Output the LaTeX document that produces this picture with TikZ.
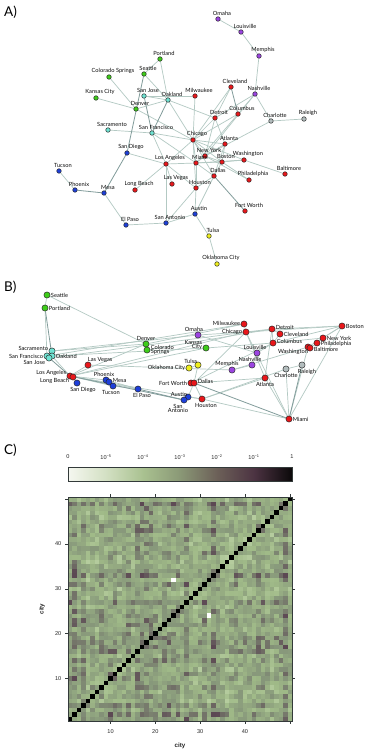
\documentclass[tikz,border=0pt]{standalone}
\usepackage{fontspec}
\setmainfont{Liberation Sans}
\newfontfamily\cityfont{Lato}
\usetikzlibrary{backgrounds}
\definecolor{cG}{HTML}{3ECC1A}
\definecolor{cC}{HTML}{6FE3D2}
\definecolor{cB}{HTML}{1E3FD8}
\definecolor{cR}{HTML}{E8171B}
\definecolor{cP}{HTML}{9B45E0}
\definecolor{cY}{HTML}{EEEE1E}
\definecolor{cK}{HTML}{B3BDBE}
\definecolor{edgec}{HTML}{B3C9C3}
\definecolor{edged}{HTML}{829C9B}
\definecolor{mL}{HTML}{C4D9AE}
\definecolor{mM}{HTML}{A0BA88}
\definecolor{mO}{HTML}{86967A}
\definecolor{mD}{HTML}{5C4853}
\definecolor{g0}{HTML}{F5F7F0}
\definecolor{g1}{HTML}{D3E0C3}
\definecolor{g2}{HTML}{A9C190}
\definecolor{g3}{HTML}{8A9876}
\definecolor{g4}{HTML}{6C6058}
\definecolor{g5}{HTML}{4C3342}
\definecolor{g6}{HTML}{0B090A}
\definecolor{frm}{HTML}{333A3A}
\begin{document}
\begin{tikzpicture}[x=1pt,y=-1pt,
  ndA/.style={circle,draw=black!85,line width=0.45pt,inner sep=0pt,minimum size=4.6pt},
  ndB/.style={circle,draw=black!85,line width=0.45pt,inner sep=0pt,minimum size=6.2pt},
  labA/.style={font=\cityfont\fontsize{5.7}{6}\selectfont,inner sep=0.3pt,xshift=4pt,text=black!95},
  labB/.style={font=\cityfont\fontsize{5.7}{5.7}\selectfont,inner sep=0.4pt,text=black!95},
  ed/.style={draw=edgec,line width=0.7pt},
  edk/.style={draw=edged,line width=0.8pt},
  panel/.style={font=\cityfont\fontsize{13.5}{14}\selectfont,inner sep=0pt},
  tick/.style={draw=frm,line width=0.45pt},
  tlab/.style={font=\fontsize{5.6}{6}\selectfont,inner sep=0.5pt,text=black!85},
  axlab/.style={font=\bfseries\fontsize{6.2}{7}\selectfont,inner sep=0.5pt,text=black!85}]
\useasboundingbox (0,0) rectangle (374,752);
\begin{pgfonlayer}{background}
\fill[white] (0,0) rectangle (374,752);
\end{pgfonlayer}

% ---------------- Panel A ----------------
\node[panel,anchor=west] (pa) at (4,12) {A)};
\foreach \n/\x/\y/\c/\t in {
omaha/218/19/cP/Omaha, louisville/241/32/cP/Louisville, memphis/259/56/cP/Memphis,
nashville/255/94/cP/Nashville, cleveland/231/87/cR/Cleveland, milwaukee/195/96/cR/Milwaukee,
detroit/215/118/cR/Detroit, columbus/238/114/cR/Columbus, charlotte/271/121/cK/Charlotte,
raleigh/304/119/cK/Raleigh, chicago/193/140/cR/Chicago, atlanta/225/144/cR/Atlanta,
newyork/205/156/cR/New York, miami/196/163/cR/Miami, boston/222/162/cR/Boston,
washington/244/160/cR/Washington, baltimore/285/174/cR/Baltimore, philadelphia/249/180/cR/Philadelphia,
dallas/214/176/cR/Dallas, houston/196/188/cR/Houston, fortworth/245/211/cR/Fort Worth,
austin/195/214/cB/Austin, tulsa/209/236/cY/Tulsa, okc/217/264/cY/Oklahoma City,
portland/160/59/cG/Portland, seattle/144/74/cG/Seattle, cosprings/109/77/cG/Colorado Springs,
kansascity/96/98/cG/Kansas City, sanjose/144/96/cC/San Jose, oakland/168/100/cC/Oakland,
denver/136/109/cG/Denver, sacramento/108/130/cC/Sacramento, sf/152/133/cC/San Francisco,
sandiego/127/153/cB/San Diego, la/166/164/cR/Los Angeles, longbeach/135/190/cR/Long Beach,
lasvegas/172/184/cR/Las Vegas, tucson/59/171/cB/Tucson, phoenix/75/190/cB/Phoenix,
mesa/104/193/cB/Mesa, elpaso/126/225/cB/El Paso, sanantonio/166/223/cB/San Antonio}
  \node[ndA,fill=\c,label={[labA]above:\t}] (a-\n) at (\x,\y) {};

\begin{pgfonlayer}{background}
\foreach \u/\v in {omaha/louisville, louisville/memphis, memphis/nashville, nashville/charlotte,
  charlotte/raleigh, charlotte/newyork, nashville/detroit, nashville/columbus, nashville/newyork,
  cleveland/detroit, cleveland/chicago, milwaukee/chicago, detroit/chicago,
  detroit/atlanta, detroit/newyork, detroit/oakland, columbus/chicago, columbus/miami,
  chicago/atlanta, chicago/newyork, chicago/miami, chicago/boston, chicago/dallas, chicago/houston,
  chicago/la, chicago/sf, chicago/denver, chicago/washington, atlanta/newyork, atlanta/boston,
  atlanta/dallas, newyork/miami, newyork/boston, newyork/philadelphia, miami/boston, miami/washington,
  washington/baltimore, boston/washington, boston/philadelphia, miami/dallas, miami/houston, miami/la,
  dallas/houston, dallas/austin, dallas/boston, houston/austin, houston/la, houston/sanantonio,
  austin/sanantonio, austin/tulsa, tulsa/okc, portland/seattle, portland/oakland, seattle/oakland,
  sanjose/oakland, sanjose/milwaukee, oakland/chicago, kansascity/denver, cosprings/denver,
  denver/oakland, sacramento/sf, sf/la, sf/miami, sandiego/la, la/longbeach, la/sanantonio,
  la/lasvegas, phoenix/tucson, mesa/elpaso, elpaso/sanantonio}
  \draw[ed] (a-\u) -- (a-\v);
\foreach \u/\v in {cleveland/columbus, dallas/fortworth, seattle/sandiego, sanjose/sf, oakland/sf,
  sandiego/mesa, mesa/phoenix}
  \draw[edk] (a-\u) -- (a-\v);
\end{pgfonlayer}

% ---------------- Panel B ----------------
\node[panel,anchor=west] (pb) at (4,287) {B)};
\node[ndB,fill=cG,label={[labB]right:Seattle}] (b-seattle) at (47,295) {};
\node[ndB,fill=cG,label={[labB]right:Portland}] (b-portland) at (45,308) {};
\node[ndB,fill=cG,label={[labB]above:Denver}] (b-denver) at (146,344) {};
\node[ndB,fill=cG,label={[labB,align=left]right:Colorado\\[-1.2pt]Springs}] (b-cosprings) at (147,350) {};
\node[ndB,fill=cC,label={[labB,yshift=3pt]left:Sacramento}] (b-sacramento) at (52,351) {};
\node[ndB,fill=cC,label={[labB]left:San Francisco}] (b-sf) at (47,356) {};
\node[ndB,fill=cC,label={[labB]right:Oakland}] (b-oakland) at (52,356) {};
\node[ndB,fill=cC,label={[labB,yshift=-4pt]left:San Jose}] (b-sanjose) at (49,358) {};
\node[ndB,fill=cR,label={[labB,xshift=-3pt]above right:Las Vegas}] (b-lasvegas) at (88,365) {};
\node[ndB,fill=cR,label={[labB,yshift=3pt]left:Los Angeles}] (b-la) at (70,376) {};
\node[ndB,fill=cR,label={[labB,yshift=-4pt]left:Long Beach}] (b-longbeach) at (73,377) {};
\node[ndB,fill=cB,label={[labB,xshift=6pt]below:San Diego}] (b-sandiego) at (77,383) {};
\node[ndB,fill=cB,label={[labB,xshift=-2pt]above:Phoenix}] (b-phoenix) at (106,380) {};
\node[ndB,fill=cB,label={[labB,yshift=2pt]right:Mesa}] (b-mesa) at (109,382) {};
\node[ndB,fill=cB,label={[labB,xshift=-2pt]below:Tucson}] (b-tucson) at (113,386) {};
\node[ndB,fill=cB,label={[labB,xshift=4pt]below:El Paso}] (b-elpaso) at (138,389) {};
\node[ndB,fill=cP,label={[labB,xshift=-4pt]above:Omaha}] (b-omaha) at (198,335) {};
\node[ndB,fill=cG,label={[labB,align=right,yshift=3pt]left:Kansas\\[-1.2pt]City}] (b-kansascity) at (206,348) {};
\node[ndB,fill=cY,label={[labB,xshift=2pt,yshift=-1pt]above left:Tulsa}] (b-tulsa) at (198,365) {};
\node[ndB,fill=cY,label={[labB]left:Oklahoma City}] (b-okc) at (189,368) {};
\node[ndB,fill=cR,label={[labB]left:Fort Worth}] (b-fortworth) at (191,383) {};
\node[ndB,fill=cR,label={[labB,yshift=2pt]right:Dallas}] (b-dallas) at (194,383) {};
\node[ndB,fill=cB,label={[labB,xshift=2pt,yshift=-2pt]above left:Austin}] (b-austin) at (188,397) {};
\node[ndB,fill=cB,label={[labB,align=center,xshift=-6pt]below:San\\[-1.2pt]Antonio}] (b-sanantonio) at (184,400) {};
\node[ndB,fill=cR,label={[labB,xshift=4pt]below:Houston}] (b-houston) at (202,399) {};
\node[ndB,fill=cR,label={[labB,yshift=1pt]left:Milwaukee}] (b-milwaukee) at (244,324) {};
\node[ndB,fill=cR,label={[labB]left:Chicago}] (b-chicago) at (246,332) {};
\node[ndB,fill=cR,label={[labB,yshift=2pt]right:Detroit}] (b-detroit) at (272,329) {};
\node[ndB,fill=cR,label={[labB]right:Cleveland}] (b-cleveland) at (280,334) {};
\node[ndB,fill=cR,label={[labB]right:Boston}] (b-boston) at (342,326) {};
\node[ndB,fill=cR,label={[labB,yshift=2pt]right:Columbus}] (b-columbus) at (273,343) {};
\node[ndB,fill=cR,label={[labB]right:New York}] (b-newyork) at (323,338) {};
\node[ndB,fill=cR,label={[labB,yshift=-1pt]right:Philadelphia}] (b-philadelphia) at (317,343) {};
\node[ndB,fill=cR,label={[labB,xshift=3pt,yshift=1pt]below left:Washington}] (b-washington) at (308,347) {};
\node[ndB,fill=cR,label={[labB,yshift=-1pt]right:Baltimore}] (b-baltimore) at (310,348) {};
\node[ndB,fill=cP,label={[labB,xshift=-2pt]above:Louisville}] (b-louisville) at (257,353) {};
\node[ndB,fill=cP,label={[labB,xshift=-2pt]above:Nashville}] (b-nashville) at (252,365) {};
\node[ndB,fill=cP,label={[labB,xshift=-5pt]above:Memphis}] (b-memphis) at (232,370) {};
\node[ndB,fill=cK,label={[labB]below:Charlotte}] (b-charlotte) at (286,369) {};
\node[ndB,fill=cK,label={[labB,xshift=5pt]below:Raleigh}] (b-raleigh) at (302,365) {};
\node[ndB,fill=cR,label={[labB]below:Atlanta}] (b-atlanta) at (265,378) {};
\node[ndB,fill=cR,label={[labB]right:Miami}] (b-miami) at (289,419) {};

\begin{pgfonlayer}{background}
\foreach \u/\v in {seattle/portland, seattle/denver, portland/sf, sacramento/denver,
  sacramento/omaha, oakland/kansascity, sf/milwaukee, sanjose/chicago, oakland/la,
  la/lasvegas, la/denver, la/phoenix, la/tucson, la/elpaso, la/houston, la/chicago,
  la/kansascity, longbeach/sandiego, lasvegas/memphis, phoenix/mesa, mesa/tucson, tucson/elpaso,
  phoenix/elpaso, sanantonio/austin, austin/dallas, austin/houston, dallas/houston,
  dallas/chicago, dallas/atlanta, fortworth/columbus, houston/miami, houston/atlanta, houston/charlotte,
  tulsa/okc, tulsa/dallas, denver/cosprings, denver/milwaukee, cosprings/detroit, kansascity/columbus,
  omaha/chicago, omaha/louisville, chicago/milwaukee, chicago/detroit, chicago/boston, chicago/miami,
  chicago/atlanta, detroit/boston, detroit/cleveland, detroit/columbus, detroit/atlanta,
  cleveland/columbus, columbus/newyork, columbus/boston, boston/newyork, boston/miami,
  boston/washington, newyork/philadelphia, philadelphia/baltimore, washington/baltimore,
  washington/miami, atlanta/miami, charlotte/raleigh, charlotte/miami, louisville/nashville,
  nashville/memphis, louisville/columbus, memphis/washington}
  \draw[ed] (b-\u) -- (b-\v);
\foreach \u/\v in {portland/oakland, sf/la, la/sanantonio, elpaso/sanantonio, dallas/fortworth,
  dallas/miami, raleigh/miami}
  \draw[edk] (b-\u) -- (b-\v);
\end{pgfonlayer}

% ---------------- Panel C ----------------
\node[panel,anchor=west] (pc) at (4,450) {C)};
% colour key
\shade[left color=g0,right color=g1] (68,467) rectangle (106.3,481);
\shade[left color=g1,right color=g2] (106,467) rectangle (143.3,481);
\shade[left color=g2,right color=g3] (143,467) rectangle (180.3,481);
\shade[left color=g3,right color=g4] (180,467) rectangle (217.3,481);
\shade[left color=g4,right color=g5] (217,467) rectangle (254.3,481);
\shade[left color=g5,right color=g6] (254,467) rectangle (292,481);
\draw[frm,line width=0.45pt] (68,467) rectangle (292,481);
\node[tlab] (k0) at (68,457) {0};
\node[tlab] (k1) at (106,457) {10\textsuperscript{−5}};
\node[tlab] (k2) at (143,457) {10\textsuperscript{−4}};
\node[tlab] (k3) at (180,457) {10\textsuperscript{−3}};
\node[tlab] (k4) at (217,457) {10\textsuperscript{−2}};
\node[tlab] (k5) at (254,457) {10\textsuperscript{−1}};
\node[tlab] (k6) at (292,457) {1};

% matrix
\pgfmathsetseed{11}
\foreach \i in {1,...,50}{\pgfmathsetmacro\e{rnd}\expandafter\xdef\csname rowe\i\endcsname{\e}}
\foreach \i in {1,...,49}{
  \pgfmathtruncatemacro\js{\i+1}
  \foreach \j in {\js,...,50}{
    \pgfmathsetmacro\v{0.26*(\csname rowe\i\endcsname+\csname rowe\j\endcsname)+0.5*rnd+0.07}
    \ifdim\v pt<0.33pt
      \pgfmathtruncatemacro\p{100*\v/0.33}\colorlet{cc}{mM!\p!mL}
    \else\ifdim\v pt<0.70pt
      \pgfmathtruncatemacro\p{100*(\v-0.33)/0.37}\colorlet{cc}{mO!\p!mM}
    \else
      \pgfmathtruncatemacro\p{min(100,100*(\v-0.70)/0.25)}\colorlet{cc}{mD!\p!mO}
    \fi\fi
    \fill[cc] ({68+4.48*(\i-1)},{721-4.48*(\j-1)+0.1}) rectangle ({68+4.48*\i+0.1},{721-4.48*\j});
    \fill[cc] ({68+4.48*(\j-1)},{721-4.48*(\i-1)+0.1}) rectangle ({68+4.48*\j+0.1},{721-4.48*\i});
  }
}
\fill[white] ({68+4.48*23},{721-4.48*31}) rectangle ({68+4.48*24},{721-4.48*32});
\fill[white] ({68+4.48*31},{721-4.48*23}) rectangle ({68+4.48*32},{721-4.48*24});
\foreach \i in {1,...,50}
  \fill[black] ({68+4.48*(\i-1)},{721-4.48*(\i-1)}) rectangle ({68+4.48*\i},{721-4.48*\i});
\draw[frm,line width=0.5pt] (68,497) rectangle (292,721);
\foreach \k in {10,20,30,40,50}{
  \draw[tick] ({68+4.48*(\k-0.5)},497) -- ++(0,-3);
  \draw[tick] ({68+4.48*(\k-0.5)},721) -- ++(0,3);
  \draw[tick] (68,{721-4.48*(\k-0.5)}) -- ++(-3,0);
  \draw[tick] (292,{721-4.48*(\k-0.5)}) -- ++(3,0);
}
\foreach \k in {10,20,30,40}{
  \node[tlab] (xt\k) at ({68+4.48*(\k-0.5)},732) {\k};
  \node[tlab,anchor=east] (yt\k) at (62,{721-4.48*(\k-0.5)}) {\k};
}
\node[axlab] (xl) at (180,746) {city};
\node[axlab,rotate=90] (yl) at (42,609) {city};
\end{tikzpicture}
\end{document}
